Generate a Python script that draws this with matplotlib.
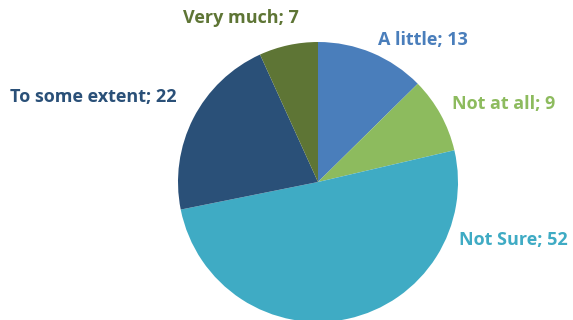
import matplotlib.pyplot as plt

categories = ["A little", "Not at all", "Not Sure", "To some extent", "Very much"]
counts = [13, 9, 52, 22, 7]
colors = ["#4A7EBB", "#8DBB5E", "#3FABC4", "#2A5078", "#5E7535"]

# label anchor points in pixel space (x, y from top), with alignment
label_pos = [
    (378, 40, "left"),
    (452, 104, "left"),
    (459, 240, "left"),
    (10, 97, "left"),
    (183, 18, "left"),
]

W, H = 573, 320
fig = plt.figure(figsize=(W / 100, H / 100), dpi=100)
ax = fig.add_axes([0, 0, 1, 1])

ax.pie(
    counts,
    colors=colors,
    startangle=90,
    counterclock=False,
    center=(318, H - 182),
    radius=140,
    wedgeprops={"linewidth": 0},
    frame=True,
)
ax.set_xlim(0, W)
ax.set_ylim(0, H)
ax.axis("off")

for name, n, c, (x, y, ha) in zip(categories, counts, colors, label_pos):
    ax.text(
        x, H - y, f"{name}; {n}",
        color=c, fontsize=13, fontweight="bold",
        family="Open Sans", ha=ha, va="center",
    )

fig.savefig("out.png", dpi=100)
